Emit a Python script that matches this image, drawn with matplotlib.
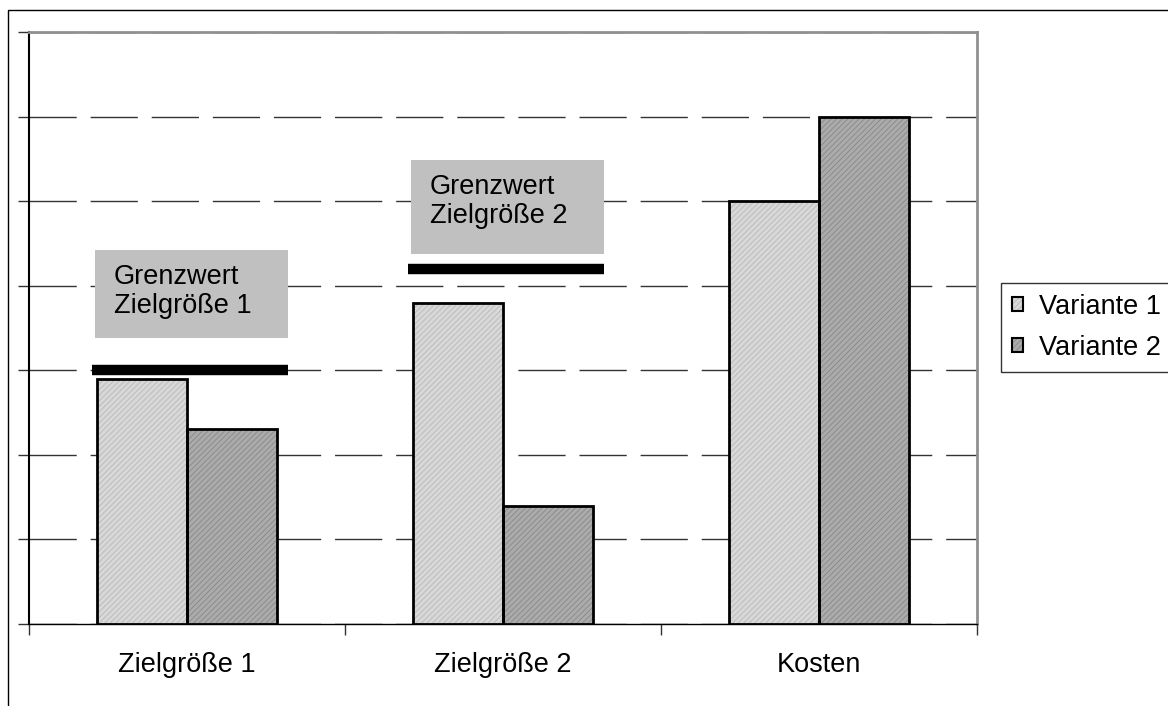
import matplotlib
matplotlib.use("Agg")
import matplotlib.pyplot as plt
from matplotlib.patches import Patch, Rectangle
import numpy as np

plt.rcParams['font.family'] = ['Liberation Sans', 'DejaVu Sans']
plt.rcParams['hatch.linewidth'] = 0.6

# Daten
kategorien = ['Zielgröße 1', 'Zielgröße 2', 'Kosten']
variante_1 = [2.9, 3.8, 5.0]
variante_2 = [2.3, 1.4, 6.0]
grenzwerte = [3.0, 4.2]
grenzwert_texte = ['Grenzwert\nZielgröße 1', 'Grenzwert\nZielgröße 2']
serien = ['Variante 1', 'Variante 2']

fs = 19.5

fig = plt.figure(figsize=(11.68, 7.06), dpi=100)
ax = fig.add_axes([29 / 1168, 82 / 706, 948 / 1168, 592 / 706])

x = np.arange(len(kategorien))
w = 0.285
farben = [('#d8d8d8', '#b8b8b8'), ('#ababab', '#888888')]

for werte, sign, (fc, hc) in zip([variante_1, variante_2], [-1, 1], farben):
    ax.bar(x, werte, width=sign * w, align='edge', color=fc, edgecolor=hc,
           hatch='//////', linewidth=0, zorder=3)
    ax.bar(x, werte, width=sign * w, align='edge', fill=False,
           edgecolor='black', linewidth=2, zorder=4)

# Grenzwerte mit Beschriftung (Kasten: Abstand zur Linie, Hoehe)
kasten = [(0.38, 1.04), (0.175, 1.11)]
for i, (gw, txt, (dy, h)) in enumerate(zip(grenzwerte, grenzwert_texte, kasten)):
    ax.hlines(gw, i - 0.30, i + 0.32, color='black', linewidth=7.5, zorder=5)
    y0 = gw + dy
    ax.add_patch(Rectangle((i - 0.29, y0), 0.61, h, facecolor='#c0c0c0',
                           edgecolor='none', zorder=5))
    ax.text(i - 0.232, y0 + h - 0.49, txt, ha='left', va='center', fontsize=fs,
            linespacing=1.15, zorder=6)

ax.set_xlim(-0.5, 2.5)
ax.set_ylim(0, 7)
ax.set_yticks(range(0, 8))
ax.set_yticklabels([])
ax.yaxis.grid(True, color='#333333', linestyle=(0, (34, 10)), linewidth=1)
ax.set_axisbelow(True)
ax.tick_params(axis='y', length=8, width=1, color='#333333')

ax.set_xticks(x)
ax.set_xticklabels(kategorien, fontsize=fs)
ax.set_xticks([-0.5, 0.5, 1.5, 2.5], minor=True)
ax.tick_params(axis='x', which='major', length=0, pad=20)
ax.tick_params(axis='x', which='minor', length=8, width=1, color='#333333')

for s in ['top', 'right']:
    ax.spines[s].set_color('#909090')
    ax.spines[s].set_linewidth(2)
ax.spines['left'].set_linewidth(1.5)
ax.spines['bottom'].set_linewidth(1)

# Legende
handles = [(Patch(facecolor=fc, edgecolor=hc, hatch='//////', linewidth=0),
            Patch(fill=False, edgecolor='black', linewidth=1.5))
           for fc, hc in farben]
leg = fig.legend(handles, serien, loc='upper left',
                 bbox_to_anchor=(1001 / 1168, 1 - 283 / 706), fontsize=fs,
                 frameon=True, fancybox=False, edgecolor='black',
                 handlelength=0.42, handleheight=0.42, handletextpad=0.58,
                 borderpad=0.4, labelspacing=0.55, borderaxespad=0)
leg.get_frame().set_linewidth(1)

# Rahmen um die Grafik
fig.add_artist(Rectangle((8 / 1168, -0.1), 2, 1.1 - 10 / 706, transform=fig.transFigure,
                         fill=False, edgecolor='black', linewidth=1))

fig.savefig('out.png', dpi=100)
